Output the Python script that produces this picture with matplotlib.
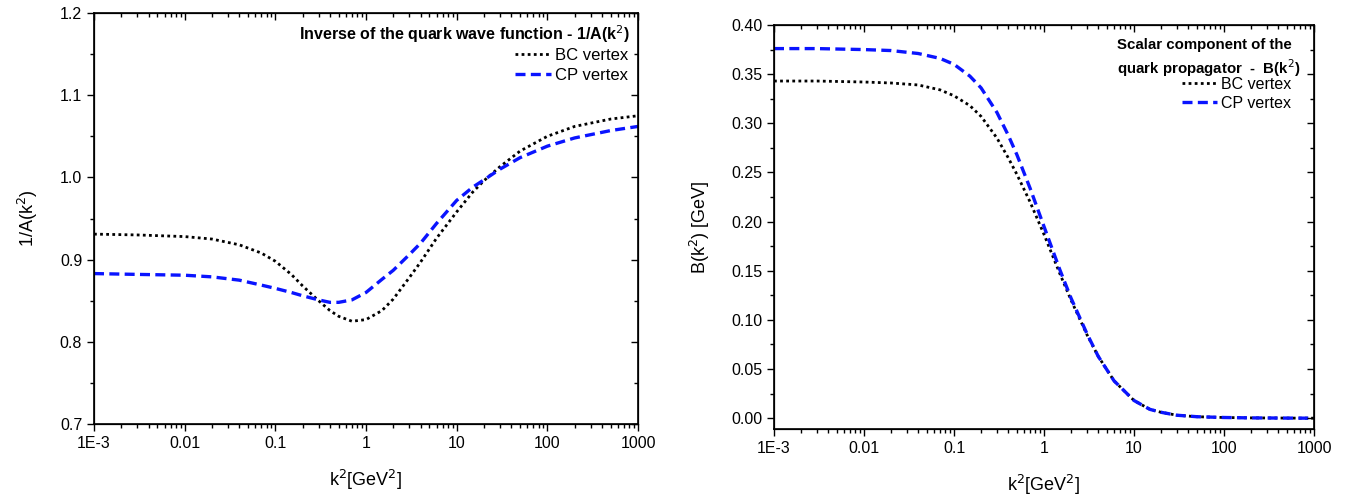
import numpy as np
from matplotlib import pyplot as plt
from matplotlib import ticker

plt.rcParams['font.family'] = ['Liberation Sans', 'DejaVu Sans']
plt.rcParams['font.size'] = 11

# momentum grid k^2 [GeV^2]
k2 = [1e-3, 3e-3, 0.01, 0.02, 0.04, 0.07, 0.1, 0.15, 0.2, 0.3, 0.4, 0.5, 0.7,
      1, 1.5, 2, 3, 4, 6, 10, 15, 20, 30, 50, 100, 200, 500, 1000]

# inverse quark wave function 1/A(k^2)
invA_bc = [0.931, 0.930, 0.928, 0.925, 0.918, 0.908, 0.898, 0.882, 0.868, 0.850,
           0.838, 0.831, 0.825, 0.827, 0.838, 0.852, 0.878, 0.897, 0.926, 0.958,
           0.982, 0.996, 1.013, 1.032, 1.050, 1.062, 1.071, 1.075]
invA_cp = [0.883, 0.882, 0.881, 0.879, 0.875, 0.869, 0.865, 0.860, 0.856, 0.851,
           0.848, 0.848, 0.851, 0.860, 0.876, 0.887, 0.906, 0.920, 0.944, 0.972,
           0.988, 0.997, 1.010, 1.024, 1.038, 1.048, 1.057, 1.062]

# scalar component B(k^2) [GeV]
B_bc = [0.343, 0.343, 0.342, 0.341, 0.339, 0.334, 0.328, 0.318, 0.307, 0.285,
        0.265, 0.248, 0.220, 0.187, 0.147, 0.120, 0.085, 0.063, 0.038, 0.018,
        0.009, 0.006, 0.003, 0.0015, 0.0007, 0.0003, 0.0001, 0.0]
B_cp = [0.376, 0.376, 0.375, 0.374, 0.371, 0.366, 0.360, 0.348, 0.336, 0.311,
        0.288, 0.268, 0.234, 0.195, 0.151, 0.122, 0.086, 0.063, 0.038, 0.018,
        0.009, 0.006, 0.003, 0.0015, 0.0007, 0.0003, 0.0001, 0.0]

xticks = [1e-3, 1e-2, 1e-1, 1, 10, 100, 1000]
xticklabels = ['1E-3', '0.01', '0.1', '1', '10', '100', '1000']

W, H = 1349, 496
fig = plt.figure(figsize=(W / 100, H / 100), dpi=100)


def make_axes(box, ylim, yticks, ylabels, yminor):
    x0, y0, x1, y1 = box
    ax = fig.add_axes([x0 / W, 1 - y1 / H, (x1 - x0) / W, (y1 - y0) / H])
    ax.set_xscale('log')
    ax.set_xlim(1e-3, 1e3)
    ax.set_ylim(*ylim)
    ax.set_xticks(xticks)
    ax.set_xticklabels(xticklabels)
    ax.xaxis.set_minor_locator(ticker.LogLocator(base=10, subs=np.arange(2, 10)))
    ax.xaxis.set_minor_formatter(ticker.NullFormatter())
    ax.set_yticks(yticks)
    ax.set_yticklabels(ylabels)
    ax.set_yticks(yminor, minor=True)
    ax.tick_params(which='major', direction='out', length=5, width=1, labelsize=11.5)
    ax.tick_params(which='minor', direction='out', length=3, width=1)
    for s in ax.spines.values():
        s.set_linewidth(1.2)

    # mirrored ticks on top / right pointing inward
    axt = ax.twiny()
    axt.set_xscale('log')
    axt.set_xlim(1e-3, 1e3)
    axt.set_xticks(xticks)
    axt.xaxis.set_minor_locator(ticker.LogLocator(base=10, subs=np.arange(2, 10)))
    axt.tick_params(which='both', direction='in', labeltop=False)
    axt.tick_params(which='major', length=5, width=1)
    axt.tick_params(which='minor', length=3, width=1)
    axr = ax.twinx()
    axr.set_ylim(*ylim)
    axr.set_yticks(yticks)
    axr.set_yticks(yminor, minor=True)
    axr.tick_params(which='both', direction='in', labelright=False)
    axr.tick_params(which='major', length=5, width=1)
    axr.tick_params(which='minor', length=3, width=1)
    return ax


# left panel
ax1 = make_axes((94, 13, 638, 424), (0.7, 1.2),
                [0.7, 0.8, 0.9, 1.0, 1.1, 1.2],
                ['0.7', '0.8', '0.9', '1.0', '1.1', '1.2'],
                [0.75, 0.85, 0.95, 1.05, 1.15])
ax1.plot(k2, invA_bc, color='black', lw=2, linestyle=(0, (1, 1.2)), label='BC vertex')
ax1.plot(k2, invA_cp, color='#0a14ff', lw=2.4, linestyle=(0, (3, 1.6)), label='CP vertex')
ax1.set_xlabel('k$^2$[GeV$^2$]', fontsize=13, labelpad=12)
ax1.set_ylabel('1/A(k$^2$)', fontsize=13, labelpad=14)
ax1.text(0.985, 0.975, 'Inverse of the quark wave function - 1/A(k$^2$)',
         transform=ax1.transAxes, ha='right', va='top', fontsize=11.5, fontweight='bold')
ax1.legend(loc='upper right', bbox_to_anchor=(1.0, 0.94), frameon=False,
           fontsize=12, handlelength=2.2, handletextpad=0.2, labelspacing=0.3,
           borderaxespad=0.2)

# right panel
ax2 = make_axes((774, 25, 1314, 429), (-0.011, 0.40),
                [0.0, 0.05, 0.10, 0.15, 0.20, 0.25, 0.30, 0.35, 0.40],
                ['0.00', '0.05', '0.10', '0.15', '0.20', '0.25', '0.30', '0.35', '0.40'],
                [0.025, 0.075, 0.125, 0.175, 0.225, 0.275, 0.325, 0.375])
ax2.plot(k2, B_bc, color='black', lw=2, linestyle=(0, (1, 1.2)), label='BC vertex')
ax2.plot(k2, B_cp, color='#0a14ff', lw=2.4, linestyle=(0, (3, 1.6)), label='CP vertex')
ax2.set_xlabel('k$^2$[GeV$^2$]', fontsize=13, labelpad=12)
ax2.set_ylabel('B(k$^2$) [GeV]', fontsize=13, labelpad=14)
ax2.text(0.635, 0.968, 'Scalar component of the\nquark propagator  -  B(k$^2$)',
         transform=ax2.transAxes, ha='left', va='top', fontsize=10.8,
         fontweight='bold', linespacing=1.3)
ax2.legend(loc='upper right', bbox_to_anchor=(0.975, 0.895), frameon=False,
           fontsize=11.5, handlelength=2.2, handletextpad=0.2, labelspacing=0.25,
           borderaxespad=0.2)

fig.savefig('out.png', dpi=100)
